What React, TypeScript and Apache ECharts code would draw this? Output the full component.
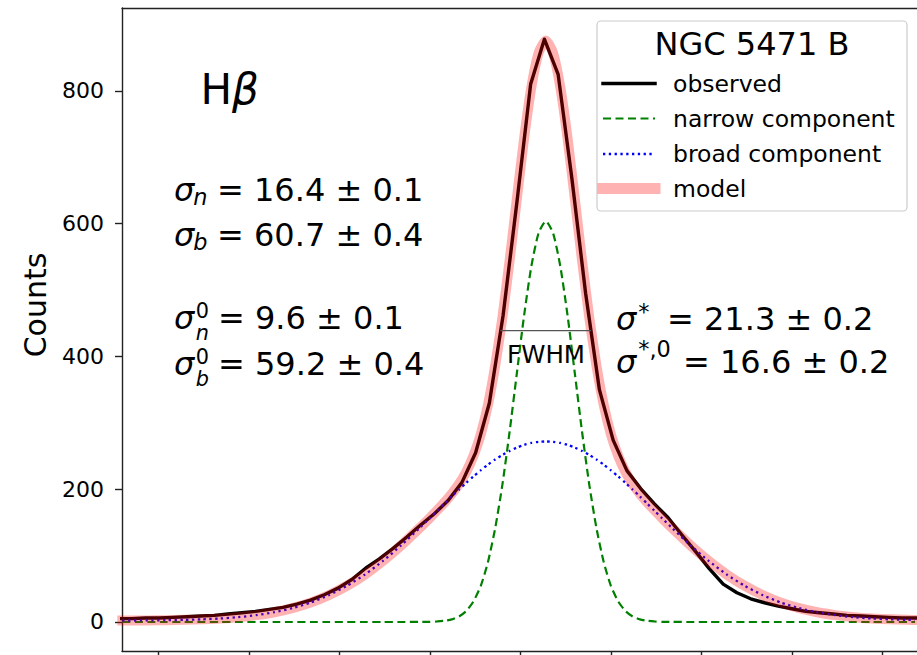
import React, { useEffect, useRef } from 'react';
import * as echarts from 'echarts';

// Velocity grid (km/s) shared by the fitted Gaussian components and the model
const componentVelocity = [
  -220, -206, -196, -186, -176, -166, -156, -146, -136, -126, -116, -106, -96, -86, -76, -66, -56,
  -50, -46, -42, -38, -34, -30, -26, -22, -18, -14, -10, -6, -2, 2, 6, 10,
  14,
  18, 22, 26, 30, 34, 38, 42, 46, 50, 54, 58, 62, 66, 70, 74, 78,
  84, 94, 104, 114, 124, 134, 144, 154, 164, 174, 184, 194, 204, 214, 218,
];

const narrowCounts = [
  0, 0, 0, 0, 0, 0, 0, 0, 0, 0, 0, 0, 0, 0, 0, 0, 0.1,
  0.3, 0.8, 1.8, 4.0, 8.3, 16.5, 31, 54, 90, 141, 207, 287, 375, 462, 536, 586,
  604,
  586, 536, 462, 375, 287, 207, 141, 90, 54, 31, 16.5, 8.3, 4.0, 1.8, 0.8, 0.3,
  0.1, 0, 0, 0, 0, 0, 0, 0, 0, 0, 0, 0, 0, 0, 0,
];

const broadCounts = [
  2.2, 2.4, 2.7, 3.2, 4.0, 5.3, 7.3, 10.4, 14.7, 20.9, 29.2, 40.3, 54.3, 71.5, 92, 115.3, 140.9,
  156.9, 167.7, 178.4, 189.1, 199.5, 209.6, 219.3, 228.4, 237, 244.8, 251.7, 257.7, 262.8, 266.8, 269.7, 271.4,
  272,
  271.4, 269.7, 266.8, 262.8, 257.7, 251.7, 244.8, 237, 228.4, 219.3, 209.6, 199.5, 189.1, 178.4, 167.7, 156.9,
  140.9, 115.3, 92, 71.5, 54.3, 40.3, 29.2, 20.9, 14.7, 10.4, 7.3, 5.3, 4.0, 3.2, 3.0,
];

const modelCounts = [
  2.2, 2.4, 2.7, 3.2, 4.0, 5.3, 7.3, 10.4, 14.7, 20.9, 29.2, 40.3, 54.3, 71.5, 92, 115.3, 141.0,
  157.2, 168.5, 180.2, 193.1, 207.8, 226.1, 250.3, 282.4, 327, 385.8, 458.7, 544.7, 637.8, 728.8, 805.7, 857.4,
  876,
  857.4, 805.7, 728.8, 637.8, 544.7, 458.7, 385.8, 327, 282.4, 250.3, 226.1, 207.8, 193.1, 180.2, 168.5, 157.2,
  141.0, 115.3, 92, 71.5, 54.3, 40.3, 29.2, 20.9, 14.7, 10.4, 7.3, 5.3, 4.0, 3.2, 3.0,
];

// Observed spectrum, one value per spectral pixel
const observedVelocity = [
  -222.4, -214.8, -207.2, -199.6, -192.0, -184.4, -176.8, -169.2, -161.6, -154.0,
  -146.4, -138.8, -131.2, -123.6, -116.0, -108.4, -100.8, -93.2, -85.6, -78.0,
  -70.4, -62.8, -55.2, -47.6, -40.0, -32.4, -24.8, -17.2, -9.6, -2.0,
  5.6, 13.2, 20.8, 28.4, 36.0, 43.6, 51.2, 58.8, 66.4, 74.0,
  81.6, 89.2, 96.8, 104.4, 112.0, 119.6, 127.2, 134.8, 142.4, 150.0,
  157.6, 165.2, 172.8, 180.4, 188.0, 195.6, 203.2, 210.8, 218.4,
];

const observedCounts = [
  5, 5, 6, 6, 7, 8, 9, 10, 12, 14,
  16, 19, 22, 27, 33, 41, 51, 64, 81, 95,
  111, 128, 146, 163, 183, 210, 255, 330, 462, 632,
  810, 878, 825, 668, 495, 350, 274, 228, 201, 178,
  157, 131, 106, 80, 57, 44, 35, 29, 24, 20,
  16, 14, 12, 10, 9, 8, 7, 6, 6,
];

const yTickValues = [0, 200, 400, 600, 800];
const xTickValues = [-200, -150, -100, -50, 0, 50, 100, 150, 200];

// Full width at half maximum of the 878-count peak
const halfMax = 439;
const fwhmEdges = [-11.2, 39.0];

const legendTitle = 'NGC 5471 B';
const legendLabels = ['observed', 'narrow component', 'broad component', 'model'];

// Gaussian widths (km/s): sub/superscripts and value of each annotation
const sigmaSubs = ['n', 'b', 'n', 'b', '', ''];
const sigmaSups = ['', '', '0', '0', '*', '*,0'];
const sigmaValues = ['16.4 ± 0.1', '60.7 ± 0.4', '9.6 ± 0.1', '59.2 ± 0.4', '21.3 ± 0.2', '16.6 ± 0.2'];

const FAMILY = '"DejaVu Sans", sans-serif';
const COLORS = {
  observed: '#000000',
  narrow: '#008000',
  broad: '#0000ff',
  model: 'rgba(255,0,0,0.3)',
};

function measure(text: string, font: string): number {
  const ctx = document.createElement('canvas').getContext('2d');
  if (!ctx) return text.length * 10;
  ctx.font = font;
  return ctx.measureText(text).width;
}

function txt(
  x: number,
  y: number,
  text: string,
  size: number,
  opts: { italic?: boolean; align?: string; rotation?: number } = {}
) {
  const align = opts.align || 'left';
  return {
    type: 'text',
    x,
    y,
    z: 20,
    rotation: opts.rotation || 0,
    style: {
      text,
      fill: '#000',
      font: `${opts.italic ? 'italic ' : ''}${size}px ${FAMILY}`,
      textAlign: align,
      textVerticalAlign: 'middle',
      align,
      verticalAlign: 'middle',
    },
  };
}

const F = 32;

// σ with its scripts; stacked super/subscripts are one two-line text
function sigmaLabel(
  x0: number,
  y: number,
  sup: string,
  sub: string,
  value: string,
  valueX: number,
  supDy: number,
  subDy: number
) {
  const w = measure('σ', `italic ${F}px ${FAMILY}`);
  const s = F * 0.7;
  const els: any[] = [txt(x0, y, 'σ', F, { italic: true })];
  if (sup && sub) {
    const gap = subDy - supDy;
    const ss = F * 0.65;
    els.push({
      type: 'text',
      x: x0 + w + 1.5,
      y: y + (supDy + subDy) / 2,
      z: 20,
      style: {
        text: `{p|${sup}}\n{b|${sub}}`,
        fill: '#000',
        textAlign: 'left',
        textVerticalAlign: 'middle',
        align: 'left',
        verticalAlign: 'middle',
        rich: {
          p: { fontSize: ss, fontFamily: FAMILY, lineHeight: gap, fill: '#000' },
          b: { fontSize: ss, fontFamily: FAMILY, fontStyle: 'italic', lineHeight: gap, fill: '#000' },
        },
      },
    });
  } else if (sup) {
    els.push(txt(x0 + w + 2, y + supDy, sup, s));
  } else if (sub) {
    els.push(txt(x0 + w - 1, y + subDy, sub, s, { italic: true }));
  }
  els.push(txt(valueX, y, '= ' + value, F));
  return els;
}

function legendElements() {
  const rowY = [83.5, 118.5, 154, 188.5];
  const x1 = 603;
  const x2 = 655;
  const styles: any[] = [
    { stroke: COLORS.observed, lineWidth: 3.5, lineCap: 'square' },
    { stroke: COLORS.narrow, lineWidth: 2.2, lineDash: [8, 4.5], lineCap: 'butt' },
    { stroke: COLORS.broad, lineWidth: 2.3, lineDash: [2.3, 3.5], lineCap: 'butt' },
    { stroke: COLORS.model, lineWidth: 11, lineCap: 'square' },
  ];
  const els: any[] = [
    {
      type: 'rect',
      z: 15,
      shape: { x: 597, y: 21, width: 310, height: 190, r: 4 },
      style: { fill: 'rgba(255,255,255,0.8)', stroke: '#cccccc', lineWidth: 1.2 },
    },
    txt(752, 44, legendTitle, 32, { align: 'center' }),
  ];
  legendLabels.forEach((label, i) => {
    els.push({
      type: 'line',
      z: 18,
      shape: { x1, y1: rowY[i], x2, y2: rowY[i] },
      style: styles[i],
    });
    els.push(txt(673, rowY[i], label, 23.5));
  });
  return els;
}

export default function App() {
  const ref = useRef<HTMLDivElement>(null);

  useEffect(() => {
    if (!ref.current) return;
    const chart = echarts.init(ref.current, undefined, { renderer: 'svg' });

    const pairs = (xs: number[], ys: number[]) => xs.map((x, i) => [x, ys[i]]);

    const hX = 200.5;
    const hW = measure('H', `42px ${FAMILY}`);

    const sigmaX = [174, 174, 174, 174, 616, 616];
    const sigmaY = [190, 235, 318, 364, 319, 362];
    const valueX = [217, 217, 218, 218, 667, 683];
    const supDy = [0, 0, -7, -7, -7, -13];
    const subDy = [7, 7, 15, 15, 0, 0];

    const annotations: any[] = [];
    sigmaValues.forEach((v, i) => {
      annotations.push(
        ...sigmaLabel(sigmaX[i], sigmaY[i], sigmaSups[i], sigmaSubs[i], v, valueX[i], supDy[i], subDy[i])
      );
    });

    const axisLine = { show: true, onZero: false, lineStyle: { color: '#222', width: 1.4 } };

    chart.setOption({
      animation: false,
      grid: { left: 122, right: 0, top: 8, bottom: 3.8 },
      xAxis: [
        {
          type: 'value',
          min: -220.2,
          max: 219.1,
          position: 'bottom',
          axisLine,
          axisTick: { show: true, length: 8, customValues: xTickValues, lineStyle: { color: '#222', width: 1.4 } },
          axisLabel: { show: false },
          splitLine: { show: false },
        },
        {
          type: 'value',
          min: -220.2,
          max: 219.1,
          position: 'top',
          axisLine,
          axisTick: { show: false },
          axisLabel: { show: false },
          splitLine: { show: false },
        },
      ],
      yAxis: {
        type: 'value',
        min: -44,
        max: 925,
        axisLine,
        axisTick: { show: true, length: 7, customValues: yTickValues, lineStyle: { color: '#222', width: 1.4 } },
        axisLabel: {
          customValues: yTickValues,
          fontSize: 22,
          fontFamily: FAMILY,
          color: '#000',
          margin: 18,
        },
        splitLine: { show: false },
      },
      series: [
        {
          name: legendLabels[0],
          type: 'line',
          data: pairs(observedVelocity, observedCounts),
          showSymbol: false,
          symbol: 'none',
          z: 2,
          lineStyle: { color: COLORS.observed, width: 3.4, join: 'round', cap: 'square' },
        },
        {
          name: legendLabels[1],
          type: 'line',
          data: pairs(componentVelocity, narrowCounts),
          showSymbol: false,
          symbol: 'none',
          smooth: 0.2,
          z: 3,
          lineStyle: { color: COLORS.narrow, width: 2.2, type: [8, 4.5] },
        },
        {
          name: legendLabels[2],
          type: 'line',
          data: pairs(componentVelocity, broadCounts),
          showSymbol: false,
          symbol: 'none',
          smooth: 0.2,
          z: 4,
          lineStyle: { color: COLORS.broad, width: 2.3, type: [2.3, 3.5] },
        },
        {
          name: legendLabels[3],
          type: 'line',
          data: pairs(componentVelocity, modelCounts),
          showSymbol: false,
          symbol: 'none',
          smooth: 0.2,
          z: 5,
          lineStyle: { color: '#ff0000', opacity: 0.3, width: 10, join: 'round', cap: 'square' },
        },
        {
          name: 'FWHM',
          type: 'line',
          data: [
            [fwhmEdges[0], halfMax],
            [fwhmEdges[1], halfMax],
          ],
          showSymbol: false,
          symbol: 'none',
          z: 6,
          lineStyle: { color: '#555', width: 1.3 },
        },
      ],
      graphic: [
        txt(35, 305, 'Counts', 30, { align: 'center', rotation: Math.PI / 2 }),
        txt(hX, 89, 'H', 42),
        txt(hX + hW, 89, 'β', 42, { italic: true }),
        txt(546, 354, 'FWHM', 24.5, { align: 'center' }),
        ...annotations,
        ...legendElements(),
      ],
    });

    return () => chart.dispose();
  }, []);

  return <div ref={ref} style={{ position: 'absolute', left: 0, top: 0, width: 917, height: 655 }} />;
}
